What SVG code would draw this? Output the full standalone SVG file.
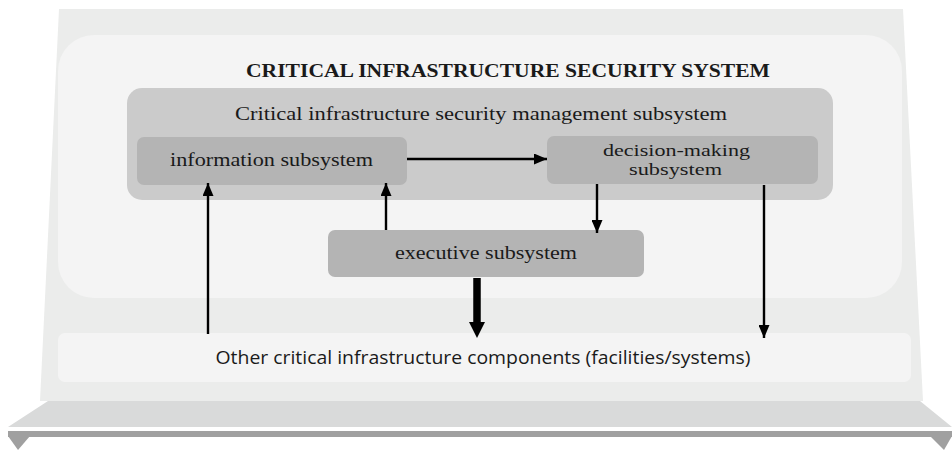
<svg xmlns="http://www.w3.org/2000/svg" width="952" height="450" viewBox="0 0 952 450">
  <style>
    .serif { font-family: "Liberation Serif", "DejaVu Serif", serif; fill: #1a1a1a; }
    .sans { font-family: "Open Sans", "Liberation Sans", sans-serif; fill: #1a1a1a; }
    .sub { fill: #b4b4b4; }
    .link { stroke: #000; stroke-width: 2.4; fill: none; }
  </style>
  <defs>
    <marker id="arr" markerUnits="userSpaceOnUse" markerWidth="13" markerHeight="11" refX="13" refY="5.5" orient="auto">
      <path d="M0,0 L13,5.5 L0,11 z" fill="#000"/>
    </marker>
  </defs>

  <rect width="952" height="450" fill="#ffffff"/>

  <!-- stand: panel, base slab and rail -->
  <g id="stand">
    <polygon points="59,9 903,9 923,401 40,401" fill="#ebeceb"/>
    <polygon points="48,401 920,401 952,427 8,427" fill="#d9dada"/>
    <rect x="8" y="431" width="944" height="6" fill="#a0a0a0"/>
    <polygon points="8,436 30,436 18,450" fill="#a0a0a0"/>
    <polygon points="930,436 952,436 944,450" fill="#a0a0a0"/>
  </g>

  <!-- security system frame -->
  <g id="system">
    <rect x="58" y="35" width="844" height="263" rx="36" fill="#f4f4f4"/>
    <text class="serif" x="508" y="77" font-size="19.5" font-weight="bold" text-anchor="middle" textLength="524" lengthAdjust="spacingAndGlyphs">CRITICAL INFRASTRUCTURE SECURITY SYSTEM</text>
  </g>

  <g id="management">
    <rect x="127" y="88" width="706" height="112" rx="15" fill="#cbcbcb"/>
    <text class="serif" x="481" y="120" font-size="19" text-anchor="middle" textLength="492" lengthAdjust="spacingAndGlyphs">Critical infrastructure security management subsystem</text>
  </g>

  <g id="information">
    <rect class="sub" x="137" y="137" width="270" height="48" rx="7"/>
    <text class="serif" x="271.5" y="166" font-size="19" text-anchor="middle" textLength="203" lengthAdjust="spacingAndGlyphs">information subsystem</text>
  </g>

  <g id="decision">
    <rect class="sub" x="547" y="136" width="271" height="48" rx="7"/>
    <text class="serif" x="676.5" y="156" font-size="16" text-anchor="middle" textLength="147" lengthAdjust="spacingAndGlyphs">decision-making</text>
    <text class="serif" x="675.5" y="175" font-size="16" text-anchor="middle" textLength="93" lengthAdjust="spacingAndGlyphs">subsystem</text>
  </g>

  <g id="executive">
    <rect class="sub" x="328" y="230" width="316" height="47" rx="7"/>
    <text class="serif" x="486" y="259" font-size="19" text-anchor="middle" textLength="182" lengthAdjust="spacingAndGlyphs">executive subsystem</text>
  </g>

  <g id="components">
    <rect x="58" y="333" width="853" height="49" rx="7" fill="#f4f4f4"/>
    <text class="sans" x="483" y="364" font-size="17.5" text-anchor="middle" textLength="535" lengthAdjust="spacingAndGlyphs">Other critical infrastructure components (facilities/systems)</text>
  </g>

  <!-- connectors -->
  <g id="connectors">
    <line class="link" x1="407" y1="159" x2="547" y2="159" marker-end="url(#arr)"/>
    <line class="link" x1="597" y1="184" x2="597" y2="233" marker-end="url(#arr)"/>
    <line class="link" x1="764" y1="185" x2="764" y2="338" marker-end="url(#arr)"/>
    <line class="link" x1="386" y1="230" x2="386" y2="183" marker-end="url(#arr)"/>
    <line class="link" x1="208" y1="334" x2="208" y2="183" marker-end="url(#arr)"/>
    <line x1="477" y1="278" x2="477" y2="324" stroke="#000" stroke-width="7.5"/>
    <polygon points="469,322 485,322 477,338" fill="#000"/>
  </g>
</svg>
